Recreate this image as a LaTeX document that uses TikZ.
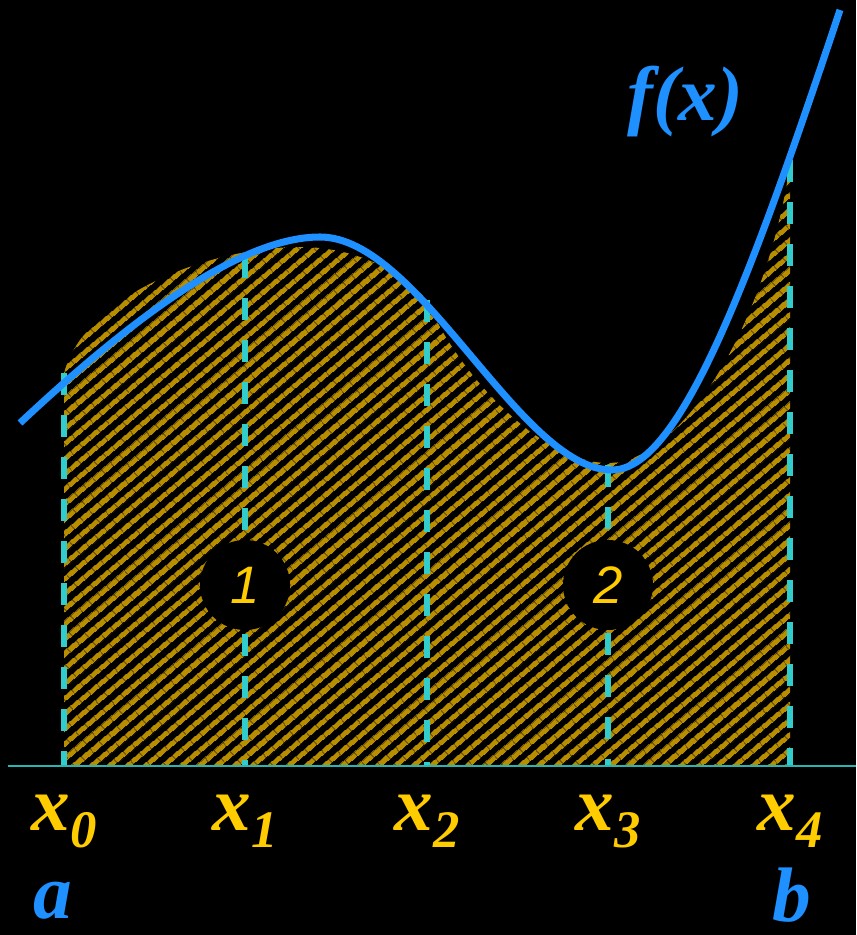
\documentclass[tikz,border=0pt]{standalone}
\usepackage{fontspec}
\setmainfont{Liberation Serif}
\setsansfont{Liberation Sans}
\definecolor{curveblue}{HTML}{1E90FF}
\definecolor{tickcyan}{HTML}{33CCCC}
\definecolor{axiscyan}{HTML}{2AB5B5}
\definecolor{labelgold}{HTML}{FFCC00}
\definecolor{hatchgold}{HTML}{B88D00}
\usetikzlibrary{patterns.meta}

\begin{document}
\begin{tikzpicture}[
  x=0.02cm, y=-0.02cm,
  curve/.style={draw=curveblue, line width=4pt},
  tick/.style={draw=tickcyan, line width=3pt, dash pattern=on 12.5pt off 11.4pt},
  axis/.style={draw=axiscyan, line width=1.1pt},
  hatch/.style={pattern={Lines[angle=40,distance=6.5pt,line width=3.1pt]},
                pattern color=hatchgold},
  xlab/.style={text=labelgold, inner sep=0pt, anchor=base, font=\bfseries\itshape},
  endlab/.style={text=curveblue, inner sep=0pt, anchor=base west,
                 font=\fontsize{44}{44}\selectfont\bfseries\itshape},
  num/.style={circle, fill=black, minimum size=1.8cm, inner sep=0pt, text=labelgold,
              font=\fontsize{30}{30}\selectfont\sffamily\itshape},
]
  \fill[black] (0,0) rectangle (856,935);
  \useasboundingbox (0,0) rectangle (856,935);

  % ---- hatched area under the two arcs ----
  \fill[hatch] (64,766) -- (64,373)
    .. controls (85,295) and (210,247) .. (300,247)
    .. controls (360,247) and (405,275) .. (427,300)
    .. controls (455,370) and (540,463) .. (608,463)
    .. controls (680,463) and (765,330) .. (790,165)
    -- (790,766) -- cycle;

  % ---- dashed ordinates x0 .. x4 ----
  \foreach \i/\xx/\yy in {0/64/373, 1/245/256, 2/427/300, 3/608/465, 4/790/160} {
    \coordinate (t\i) at (\xx,\yy);
    \coordinate (b\i) at (\xx,766);
    \draw[tick] (t\i) -- (b\i);
    \node[xlab] (lx\i) at (\xx,830)
      {{\fontsize{44}{44}\selectfont x}\raisebox{-10pt}{\fontsize{30}{30}\selectfont \i}};
  }

  % ---- axis ----
  \coordinate (axl) at (8,766);
  \coordinate (axr) at (856,766);
  \draw[axis] (axl) -- (axr);

  % ---- panel numbers ----
  \node[num] (c1) at (245,585) {1};
  \node[num] (c2) at (608,585) {2};

  % ---- f(x) ----
  \draw[curve] (20,423)
    .. controls (130,320) and (240,237) .. (320,237)
    .. controls (420,237) and (520,470) .. (612,470)
    .. controls (680,470) and (750,280) .. (840,10);

  \node[endlab] (fx) at (627,121) {f(x)};
  \node[endlab] (la) at (33,918) {a};
  \node[endlab] (lb) at (772,921) {b};
\end{tikzpicture}
\end{document}
